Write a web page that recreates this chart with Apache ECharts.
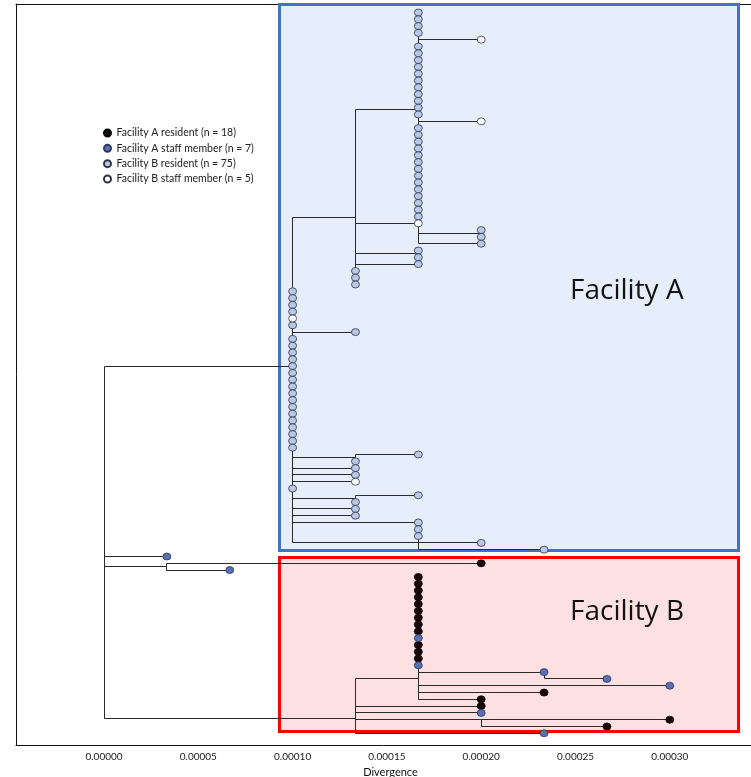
<!DOCTYPE html>
<html><head><meta charset="utf-8">
<script src="https://cdn.jsdelivr.net/npm/echarts@6/dist/echarts.min.js"></script>
<style>html,body{margin:0;padding:0;background:#fff}#c{width:751px;height:777px}</style>
</head><body><div id="c"></div>
<script>
// divergence of one SNP difference
const SNP_DIV = 1 / 30000;

// Tips, top to bottom (row = index): parent node, SNP distance from root, group
const tipParents = [
  'T1','T1','T1','T1','T1','T1','T1','T1','T1','T1','T1','T1','T1','T1','T1','T1',
  'T1','T1','T1','T1','T1','T1','T1','T1','T1','T1','T1','T1','T1','T1','T1',
  'T2','T2a','T2a','T2','A4b','A4b','A4','A4','A4','A4',
  'A','A','A','A','A','A','A','A','A','A','A','A','A','A','A','A','A','A','A','A','A','A','A','A',
  'Aa','Aa','A','A','A','A','Ab','Ab','A','A','Ac','Ac','Ac','A','Ac',
  'root','S','S',
  'B5','B5','B5','B5','B5','B5','B5','B5','B5','B5','B5','B5','B5','B5',
  'B7','B7','B5','B5','B5','B','B','B6','B6','B'
];
const tipSnps = [
  5,5,5,5, 6, 5,5,5,5,5,5,5,5,5,5,5, 6, 5,5,5,5,5,5,5,5,5,5,5,5,5,5,
  5, 6,6, 6, 5,5, 5, 4,4,4,
  3,3,3,3,3,3, 4, 3,3,3,3,3,3,3,3,3,3,3,3,3,3,3,3,3,
  5,4, 4,4,4, 3, 5,4, 4,4, 5,5,5, 6, 7,
  1, 6, 2,
  5,5,5,5,5,5,5,5,5,5,5,5,5,5,
  7,8, 9,7,6, 6,6, 9,8, 7
];
// 0 = Facility A resident, 1 = Facility A staff, 2 = Facility B resident, 3 = Facility B staff
const tipGroups = [
  2,2,2,2, 3, 2,2,2,2,2,2,2,2,2,2,2, 3, 2,2,2,2,2,2,2,2,2,2,2,2,2,2,
  3, 2,2, 2, 2,2, 2, 2,2,2,
  2,2,2,2,3,2, 2, 2,2,2,2,2,2,2,2,2,2,2,2,2,2,2,2,2,
  2,2, 2,2,3, 2, 2,2, 2,2, 2,2,2, 2, 2,
  1, 0, 1,
  0,0,0,0,0,0,0,0,0,1,0,0,0,1,
  1,1, 1,0,0, 0,1, 0,0, 1
];

// Internal nodes
const nodeIds     = ['root','A','A4','T1','T2','T2a','A4b','Aa','Ab','Ac','S','B','B5','B7','B6'];
const nodeParents = [null,'root','A','A4','A4','T2','A4','A','A','A','root','root','B','B5','B'];
const nodeSnps    = [0, 3, 4, 5, 5, 6, 5, 4, 4, 5, 1, 4, 5, 7, 6];
const nodeRows    = [78, 52.1, 30.2, 14.3, 31, 32.5, 35.5, 65.5, 71.5, 75, 81.5, 103.75, 98, 97.1, 103.9];

const groupNames = [
  'Facility A resident (n = 18)',
  'Facility A staff member (n = 7)',
  'Facility B resident (n = 75)',
  'Facility B staff member (n = 5)'
];
const groupFill   = ['#1a0606', '#5a70b2', '#b8c8e8', '#ffffff'];
const groupBorder = ['#000000', '#2b3766', '#2e3440', '#2e3440'];

const xTicks = [0, 0.00005, 0.0001, 0.00015, 0.0002, 0.00025, 0.0003];

// ---- build
const nodeMap = {};
nodeIds.forEach((id, i) => nodeMap[id] = {x: nodeSnps[i] * SNP_DIV, row: nodeRows[i]});
const edges = [];
nodeIds.forEach((id, i) => {
  const p = nodeParents[i];
  if (p) edges.push([nodeMap[p].x, nodeMap[p].row, nodeMap[id].x, nodeMap[id].row]);
});
const tipData = [[], [], [], []];
tipParents.forEach((p, r) => {
  const x = tipSnps[r] * SNP_DIV;
  edges.push([nodeMap[p].x, nodeMap[p].row, x, r]);
  tipData[tipGroups[r]].push([x, r]);
});

const X_MIN = -4.666e-5, X_MAX = 3.4305e-4;
const chart = echarts.init(document.getElementById('c'), null, {renderer: 'canvas'});
const crisp = v => Math.round(v - 0.5) + 0.5;

chart.setOption({
  animation: false,
  grid: {left: 16, right: 0, top: 4, bottom: 32, outerBoundsMode: 'none', containLabel: false},
  xAxis: [{
    type: 'value', min: X_MIN, max: X_MAX, position: 'bottom',
    axisLine: {show: true, onZero: false, lineStyle: {color: '#111', width: 1}},
    axisTick: {show: false}, splitLine: {show: false},
    axisLabel: {customValues: xTicks, formatter: v => v.toFixed(5), fontSize: 10,
      color: '#222', margin: 7, fontFamily: 'Lato'},
    name: 'Divergence', nameLocation: 'middle', nameGap: 20,
    nameTextStyle: {fontSize: 11, color: '#111', fontFamily: 'Lato', padding: [0, 0, 0, 14]}
  }, {
    type: 'value', min: X_MIN, max: X_MAX, position: 'top',
    axisLine: {show: true, onZero: false, lineStyle: {color: '#111', width: 1}},
    axisTick: {show: false}, axisLabel: {show: false}, splitLine: {show: false}
  }],
  yAxis: {
    type: 'value', inverse: true, min: -1.25, max: 107.72,
    axisLine: {show: true, onZero: false, lineStyle: {color: '#111', width: 1}},
    axisTick: {show: false}, axisLabel: {show: false}, splitLine: {show: false}
  },
  legend: {
    orient: 'vertical', left: 98, top: 120.4, itemWidth: 8, itemHeight: 7, itemGap: 0,
    icon: 'circle', data: groupNames,
    textStyle: {fontSize: 10.5, lineHeight: 15.3, color: '#222', fontFamily: 'Lato'}
  },
  graphic: [
    {type: 'rect', z: 1, shape: {x: 279.5, y: 4.5, width: 459, height: 546},
      style: {fill: '#e7eefb', stroke: '#4472c4', lineWidth: 3}},
    {type: 'rect', z: 1, shape: {x: 279.5, y: 557.5, width: 459, height: 174},
      style: {fill: '#fde0e1', stroke: '#ff0000', lineWidth: 3}},
    {type: 'text', z: 5, x: 570, y: 291,
      style: {text: 'Facility A', font: '28px "Open Sans"', fill: '#111', verticalAlign: 'middle'}},
    {type: 'text', z: 5, x: 570, y: 612,
      style: {text: 'Facility B', font: '28px "Open Sans"', fill: '#111', verticalAlign: 'middle'}}
  ],
  series: [{
    type: 'custom', z: 3, silent: true,
    encode: {x: [0, 2], y: [1, 3]},
    data: edges,
    renderItem: (params, api) => {
      const a = api.coord([api.value(0), api.value(1)]);
      const b = api.coord([api.value(0), api.value(3)]);
      const c = api.coord([api.value(2), api.value(3)]);
      const pts = [[crisp(a[0]), crisp(a[1])], [crisp(b[0]), crisp(b[1])], [crisp(c[0]), crisp(c[1])]];
      return {type: 'polyline', shape: {points: pts},
        style: {stroke: '#2a2a2a', lineWidth: 1, fill: null}};
    }
  }].concat(groupNames.map((name, g) => ({
    type: 'scatter', name: name, z: 4, data: tipData[g],
    symbol: 'circle', symbolSize: [8, 7],
    itemStyle: {color: groupFill[g], borderColor: groupBorder[g], borderWidth: 0.8, opacity: 1}
  })))
});
</script>
</body></html>
